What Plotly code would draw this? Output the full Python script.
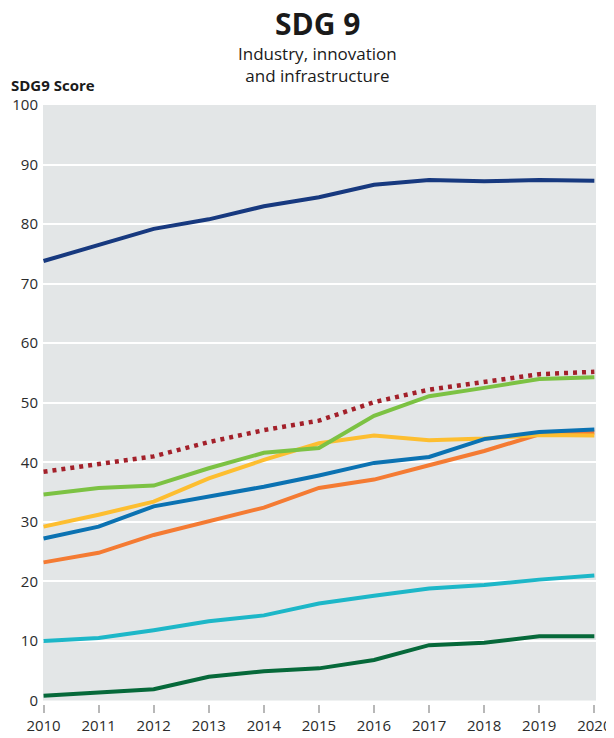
import plotly.graph_objects as go

years = list(range(2010, 2021))

navy = [73.8, 76.5, 79.2, 80.8, 83.0, 84.5, 86.6, 87.4, 87.2, 87.4, 87.3]
red_dotted = [38.4, 39.7, 41.0, 43.4, 45.4, 47.0, 50.1, 52.2, 53.5, 54.8, 55.2]
light_green = [34.6, 35.7, 36.1, 39.0, 41.6, 42.4, 47.8, 51.1, 52.5, 54.0, 54.3]
yellow = [29.2, 31.2, 33.4, 37.3, 40.4, 43.2, 44.5, 43.7, 44.0, 44.6, 44.5]
blue = [27.2, 29.2, 32.6, 34.3, 35.9, 37.8, 39.9, 40.9, 43.9, 45.1, 45.5]
orange = [23.2, 24.8, 27.8, 30.1, 32.4, 35.7, 37.1, 39.5, 41.9, 44.7, 45.0]
cyan = [10.0, 10.5, 11.8, 13.3, 14.3, 16.3, 17.6, 18.8, 19.4, 20.3, 21.0]
dark_green = [0.8, 1.3, 1.9, 4.0, 4.9, 5.4, 6.8, 9.3, 9.7, 10.8, 10.8]

y_ticks = list(range(0, 101, 10))

series = [
    (dark_green, "#06693a", "solid", 4),
    (cyan, "#1db7c8", "solid", 4),
    (orange, "#f47b33", "solid", 4),
    (yellow, "#fdbe30", "solid", 4),
    (blue, "#0b72b2", "solid", 4),
    (light_green, "#7cc243", "solid", 4),
    (red_dotted, "#a3202a", "4px,5px", 4.5),
    (navy, "#17397f", "solid", 4),
]

fig = go.Figure()
for vals, col, dash, w in series:
    fig.add_trace(go.Scatter(x=years, y=vals, mode="lines",
                             line=dict(color=col, width=w, dash=dash),
                             showlegend=False, hoverinfo="skip"))

FONT = "Open Sans"
fig.update_layout(
    width=606, height=730,
    margin=dict(l=35, r=18, t=97, b=34),
    paper_bgcolor="white",
    plot_bgcolor="#e3e6e7",
    font=dict(family=FONT, color="#2b2b2b"),
    xaxis=dict(
        range=[2009.99, 2020.03], automargin=False,
        tickmode="array", tickvals=years, ticktext=[str(y) for y in years],
        showgrid=False, zeroline=False, showline=False,
        ticks="outside", ticklen=8, tickwidth=1.5, tickcolor="#b8b8b8",
        tickfont=dict(size=15, family=FONT, color="#2b2b2b"),
        ticklabeloverflow="allow",
        anchor="free", position=0,
    ),
    yaxis=dict(
        range=[0, 100], domain=[0.0058, 1], automargin=False,
        tickmode="array", tickvals=y_ticks, ticktext=[str(v) for v in y_ticks],
        showgrid=True, gridcolor="white", gridwidth=1.5,
        zeroline=False, showline=False, ticks="", ticklabelstandoff=4,
        tickfont=dict(size=15, family=FONT, color="#2b2b2b"),
    ),
    annotations=[
        dict(text="<b>SDG 9</b>", xref="paper", yref="paper",
             x=0.497, y=1.136, xanchor="center", yanchor="middle",
             showarrow=False, font=dict(size=30, family=FONT, color="#1a1a1a")),
        dict(text="Industry, innovation<br>and infrastructure", xref="paper", yref="paper",
             x=0.497, y=1.068, xanchor="center", yanchor="middle",
             showarrow=False, font=dict(size=17, family=FONT, color="#1a1a1a")),
        dict(text="<b>SDG9 Score</b>", xref="paper", yref="paper",
             x=-0.062, y=1.034, xanchor="left", yanchor="middle",
             showarrow=False, font=dict(size=15, family=FONT, color="#1a1a1a")),
    ],
)

fig.write_html("out.html")
